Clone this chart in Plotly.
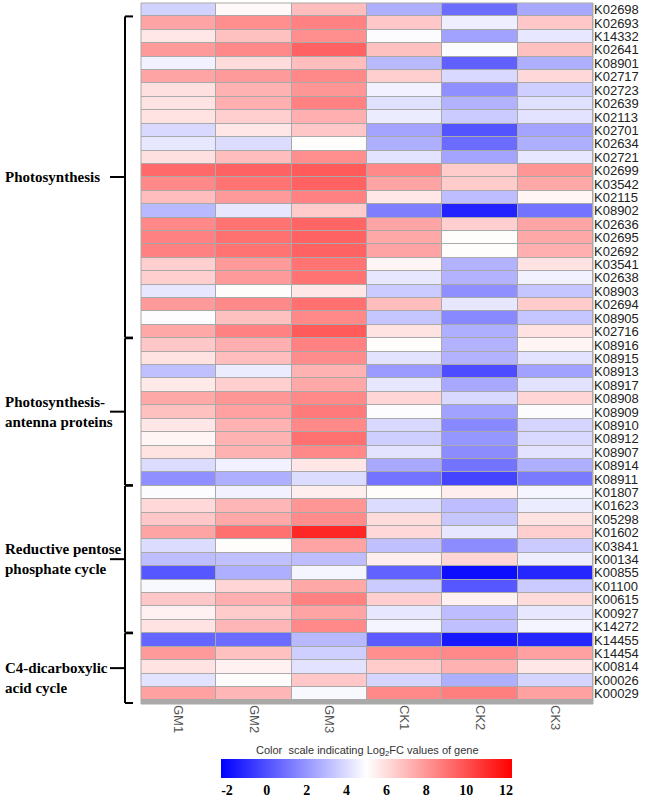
import plotly.graph_objects as go

genes = [
    "K02698", "K02693", "K14332", "K02641", "K08901", "K02717", "K02723", "K02639",
    "K02113", "K02701", "K02634", "K02721", "K02699", "K03542", "K02115", "K08902",
    "K02636", "K02695", "K02692", "K03541", "K02638", "K08903", "K02694", "K08905",
    "K02716", "K08916", "K08915", "K08913", "K08917", "K08908", "K08909", "K08910",
    "K08912", "K08907", "K08914", "K08911", "K01807", "K01623", "K05298", "K01602",
    "K03841", "K00134", "K00855", "K01100", "K00615", "K00927", "K14272", "K14455",
    "K14454", "K00814", "K00026", "K00029",
]
samples = ["GM1", "GM2", "GM3", "CK1", "CK2", "CK3"]

# log2FC per sample, one value per gene (same order as genes)
GM1 = [3.7, 7.6, 5.7, 7.9, 4.6, 7.6, 5.9, 5.8, 5.8, 3.9, 4.3, 5.9, 9.3, 8.4, 6.9, 3.0,
       8.4, 8.6, 8.6, 6.4, 6.4, 4.3, 7.9, 4.95, 7.5, 6.6, 5.8, 3.2, 5.6, 7.5, 6.8, 5.7,
       5.3, 5.8, 4.0, 1.8, 4.9, 6.1, 6.6, 7.6, 4.0, 3.1, 0.2, 4.8, 6.6, 5.4, 5.8, 0.6,
       7.9, 5.8, 4.2, 7.7]
GM2 = [5.2, 8.2, 6.8, 8.4, 6.0, 7.9, 7.2, 7.3, 6.4, 5.7, 4.0, 6.9, 9.5, 9.0, 7.9, 4.3,
       9.0, 9.1, 9.0, 7.9, 7.9, 5.1, 8.4, 6.8, 8.6, 7.3, 6.9, 4.45, 6.4, 8.0, 7.7, 7.2,
       7.2, 7.2, 4.6, 2.7, 4.6, 7.1, 7.5, 9.1, 5.1, 3.2, 2.7, 6.2, 7.3, 6.5, 7.1, 0.75,
       6.8, 5.4, 5.1, 7.1]
GM3 = [6.9, 8.6, 8.2, 9.5, 6.9, 8.4, 8.0, 8.6, 7.3, 6.6, 5.1, 8.2, 9.7, 9.5, 8.6, 6.5,
       9.4, 9.5, 9.5, 9.0, 9.0, 5.7, 9.1, 8.4, 9.7, 8.6, 8.3, 7.2, 7.5, 8.4, 8.8, 8.4,
       9.1, 8.4, 5.7, 4.0, 5.5, 8.0, 8.3, 11.2, 7.6, 3.1, 4.7, 7.5, 8.6, 7.6, 8.4, 3.0,
       3.6, 4.2, 6.6, 4.8]
CK1 = [2.7, 6.6, 4.9, 6.8, 3.0, 6.4, 4.6, 4.1, 4.45, 2.4, 2.7, 4.2, 8.4, 7.6, 5.7, 1.3,
       7.6, 7.5, 7.6, 5.3, 4.3, 3.5, 6.9, 3.35, 5.8, 5.1, 4.2, 2.1, 4.3, 6.2, 4.9, 3.9,
       3.6, 4.2, 2.5, 1.0, 5.1, 4.0, 6.0, 6.1, 3.2, 5.5, 0.5, 3.5, 6.4, 4.3, 4.7, 0.3,
       8.2, 6.5, 3.8, 8.4]
CK2 = [0.8, 4.5, 2.3, 4.9, 0.45, 3.9, 1.8, 2.8, 3.5, 0.1, 0.75, 2.4, 6.5, 6.5, 3.1, -1.3,
       6.4, 5.1, 5.1, 2.8, 2.8, 1.8, 4.3, 1.6, 2.7, 2.8, 2.8, -0.1, 2.5, 3.9, 2.3, 1.6,
       2.0, 1.7, 1.0, -0.35, 5.5, 3.1, 3.35, 4.3, 1.7, 6.2, -1.9, 0.2, 5.4, 3.1, 3.2, -1.6,
       8.4, 7.2, 2.7, 8.7]
CK3 = [2.5, 6.6, 4.3, 6.8, 2.7, 6.1, 3.6, 4.1, 4.2, 2.4, 2.7, 4.3, 8.0, 7.5, 5.3, 1.0,
       7.6, 7.5, 7.3, 5.8, 4.6, 3.35, 6.5, 3.35, 5.8, 5.3, 4.2, 2.3, 4.2, 6.2, 4.9, 3.8,
       3.9, 4.2, 2.7, 1.2, 4.7, 4.45, 5.8, 6.4, 3.5, 4.5, -1.2, 3.5, 6.0, 4.3, 4.7, -1.2,
       7.7, 5.7, 3.8, 7.7]

groups = [
    ("Photosynthesis", 25),
    ("Photosynthesis-<br>antenna proteins", 11),
    ("Reductive pentose<br>phosphate cycle", 11),
    ("C4-dicarboxylic<br>acid cycle", 5),
]
cbar_ticks = [-2, 0, 2, 4, 6, 8, 10, 12]

# plot area in pixels
W, H = 646, 797
L, R, T, B = 141, 593, 3, 704


def xp(px):
    return (px - L) / (R - L)


def yp(py):
    return (B - py) / (B - T)


z = [list(row) for row in zip(GM1, GM2, GM3, CK1, CK2, CK3)]

fig = go.Figure(go.Heatmap(
    z=z, x=samples, y=genes,
    zmin=-2.3, zmax=12.3,
    colorscale=[[0, "#0000ff"], [0.5, "#ffffff"], [1, "#ff0000"]],
    xgap=1, ygap=1,
    colorbar=dict(
        orientation="h", x=xp(366.5), xanchor="center", y=yp(759), yanchor="top",
        len=291, lenmode="pixels", thickness=19, thicknessmode="pixels",
        outlinewidth=0, xpad=0, ypad=0, ticks="", ticklen=0,
        tickvals=cbar_ticks, ticktext=[str(t) for t in cbar_ticks],
        tickfont=dict(family="Liberation Serif", size=14, color="black", weight="bold"),
    ),
))

shapes = [dict(type="rect", xref="paper", yref="paper", x0=0, x1=1, y0=0, y1=1,
               line=dict(color="#a9a9a9", width=1), layer="above")]
annotations = []
start = 0
for i, (name, n) in enumerate(groups):
    top = start - 0.5 + (1.0 if i == 0 else 0.0)
    bot = start + n - 0.5 + (0.2 if i == len(groups) - 1 else -0.05)
    mid = (top + bot) / 2
    line = dict(color="black", width=2)
    shapes += [
        dict(type="line", xref="paper", yref="y", x0=xp(125), x1=xp(125), y0=top, y1=bot, line=line),
        dict(type="line", xref="paper", yref="y", x0=xp(125), x1=xp(133), y0=top, y1=top, line=line),
        dict(type="line", xref="paper", yref="y", x0=xp(125), x1=xp(133), y0=bot, y1=bot, line=line),
        dict(type="line", xref="paper", yref="y", x0=xp(110), x1=xp(125), y0=mid, y1=mid, line=line),
    ]
    shift = 0.75 if i == len(groups) - 1 else 0.0
    annotations.append(dict(
        text="<b>%s</b>" % name, xref="paper", yref="y", x=xp(3), y=mid + shift,
        xanchor="left", yanchor="middle", align="left", showarrow=False,
        font=dict(family="Liberation Serif", size=15, color="black"),
    ))
    start += n

annotations.append(dict(
    text="Color  scale indicating Log<sub>2</sub>FC values of gene",
    xref="paper", yref="paper", x=xp(367), y=yp(751),
    xanchor="center", yanchor="middle", showarrow=False,
    font=dict(family="Liberation Sans", size=11, color="#333"),
))

fig.update_layout(
    width=W, height=H,
    margin=dict(l=L, r=W - R, t=T, b=H - B, autoexpand=False),
    paper_bgcolor="white", plot_bgcolor="#a9a9a9",
    shapes=shapes, annotations=annotations,
    xaxis=dict(side="bottom", tickangle=90, ticks="", showgrid=False, zeroline=False,
               showline=False,
               tickfont=dict(family="Liberation Sans", size=13, color="#555"),
               automargin=False),
    yaxis=dict(side="right", autorange="reversed", ticks="", showgrid=False, zeroline=False,
               tickmode="array", tickvals=genes, ticktext=genes, showline=False,
               tickfont=dict(family="Liberation Sans", size=13, color="#222"),
               automargin=False),
)

# drop the browser's default 8px body margin so the figure sits at the page corner
fig.write_html("out.html", config={"displayModeBar": False},
               post_script="document.body.style.margin='0';")
